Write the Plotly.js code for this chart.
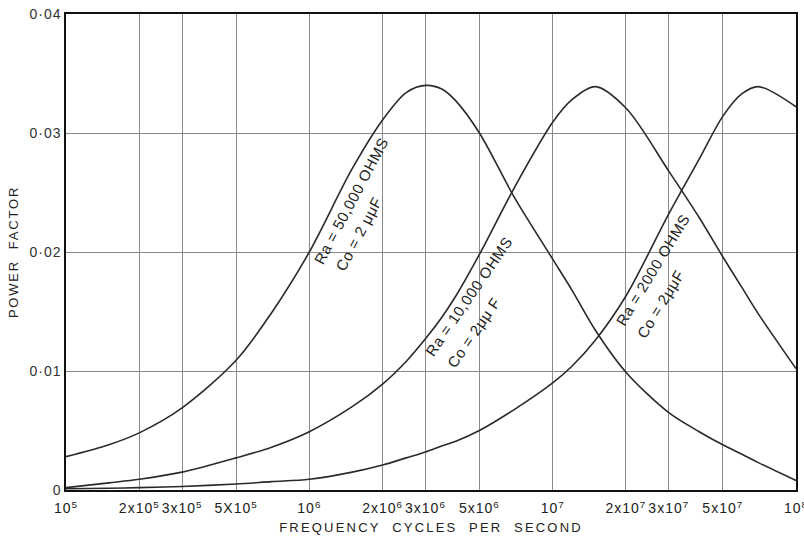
<!DOCTYPE html>
<html>
<head>
<meta charset="utf-8">
<script src="https://cdn.plot.ly/plotly-3.0.1.min.js"></script>
<style>
  html, body { margin: 0; padding: 0; background: #fff; }
  #chart { width: 804px; height: 542px; }
  .xtitle { letter-spacing: 2.2px; }
  .ytitle { letter-spacing: 1.8px; }
  .xtick text, .ytick text { letter-spacing: 1px; }
  .annotation-text { letter-spacing: 0.6px; }
</style>
</head>
<body>
<div id="chart"></div>
<script>
// Frequency (cycles per second)
const freq = [1e5, 1.5e5, 2e5, 3e5, 5e5, 7e5, 1e6, 1.5e6, 2e6, 2.5e6, 3e6, 3.5e6, 4e6, 5e6, 7e6,
              1e7, 1.2e7, 1.5e7, 2e7, 3e7, 4e7, 5e7, 6e7, 7e7, 1e8];

// Power factor, Ra = 50,000 ohms, Co = 2 µµF
const pf50000 = [0.0028, 0.0038, 0.0048, 0.0069, 0.0109, 0.0149, 0.0200, 0.0270, 0.0311, 0.0334, 0.0340, 0.0337,
                 0.0327, 0.0300, 0.0245, 0.0194, 0.0168, 0.0134, 0.0099, 0.0065, 0.0049, 0.0038, 0.0030, 0.0023, 0.0008];

// Power factor, Ra = 10,000 ohms, Co = 2 µµF
const pf10000 = [0.0002, 0.0006, 0.0009, 0.0015, 0.0027, 0.0036, 0.0049, 0.0070, 0.0089, 0.0108, 0.0127, 0.0145,
                 0.0163, 0.0198, 0.0255, 0.0309, 0.0328, 0.0339, 0.0321, 0.0268, 0.0229, 0.0196, 0.0170, 0.0148, 0.0102];

// Power factor, Ra = 2000 ohms, Co = 2 µµF
const pf2000 = [0.0001, 0.00015, 0.0002, 0.0003, 0.0005, 0.0007, 0.0009, 0.0015, 0.0021, 0.0027, 0.0032, 0.0037,
                0.0041, 0.0050, 0.0068, 0.0090, 0.0104, 0.0126, 0.0163, 0.0232, 0.0278, 0.0314, 0.0333, 0.0339, 0.0322];

// Tick labels
const xTickVals = [1e5, 2e5, 3e5, 5e5, 1e6, 2e6, 3e6, 5e6, 1e7, 2e7, 3e7, 5e7, 1e8];
const xTickText = ['10<sup>5</sup>', '2x10<sup>5</sup>', '3x10<sup>5</sup>', '5X10<sup>5</sup>', '10<sup>6</sup>',
                   '2x10<sup>6</sup>', '3x10<sup>6</sup>', '5x10<sup>6</sup>', '10<sup>7</sup>',
                   '2x10<sup>7</sup>', '3x10<sup>7</sup>', '5x10<sup>7</sup>', '10<sup>8</sup>'];
const yTickVals = [0, 0.01, 0.02, 0.03, 0.04];
const yTickText = ['0', '0·01', '0·02', '0·03', '0·04'];

// Curve labels
const labelLine1 = ['Ra = 50,000 OHMS', 'Ra = 10,000 OHMS', 'Ra = 2000 OHMS'];
const labelLine2 = ['Co = 2 μμF', 'Co = 2μμ F', 'Co = 2μμF'];

const FONT = '"Liberation Sans", Arial, Helvetica, sans-serif';
const lineStyle = { color: '#2a2a2a', width: 1.6, shape: 'spline', smoothing: 0.9 };

const traces = [pf50000, pf10000, pf2000].map((ys, i) => ({
  type: 'scatter', mode: 'lines', x: freq, y: ys,
  line: lineStyle, hoverinfo: 'skip',
  name: labelLine1[i]
}));

// label placement (log10 x for log axis, data y) and angle
const labelPos = [
  { a: [6.171, 0.02437], b: [6.204, 0.02155], ang: -62 },
  { a: [6.654, 0.01630], b: [6.675, 0.01324], ang: -55.5 },
  { a: [7.412, 0.01853], b: [7.441, 0.01563], ang: -58.7 }
];
const annotations = [];
labelPos.forEach((p, i) => {
  annotations.push({ x: p.a[0], y: p.a[1], xref: 'x', yref: 'y', text: labelLine1[i], showarrow: false,
    textangle: p.ang, font: { family: FONT, size: 15, color: '#222' }, xanchor: 'center', yanchor: 'middle' });
  annotations.push({ x: p.b[0], y: p.b[1], xref: 'x', yref: 'y', text: labelLine2[i], showarrow: false,
    textangle: p.ang, font: { family: FONT, size: 15, color: '#222' }, xanchor: 'center', yanchor: 'middle' });
});

const layout = {
  width: 804, height: 542,
  margin: { l: 66, r: 8, t: 14, b: 52 },
  paper_bgcolor: '#ffffff', plot_bgcolor: '#ffffff',
  showlegend: false,
  font: { family: FONT, color: '#222' },
  xaxis: {
    type: 'log', range: [5, 8],
    tickmode: 'array', tickvals: xTickVals, ticktext: xTickText,
    tickangle: 0, ticks: '', ticklabeloverflow: 'allow', ticklabelstandoff: 5,
    tickfont: { family: FONT, size: 14, color: '#222' },
    showgrid: true, gridcolor: '#8a8a8a', gridwidth: 1,
    showline: true, linecolor: '#111', linewidth: 1.6, mirror: true,
    zeroline: false,
    title: { text: 'FREQUENCY\u00A0\u00A0CYCLES\u00A0\u00A0PER\u00A0\u00A0SECOND', standoff: 7,
             font: { family: FONT, size: 13, color: '#222' } }
  },
  yaxis: {
    range: [0, 0.04],
    tickmode: 'array', tickvals: yTickVals, ticktext: yTickText,
    ticks: '',
    tickfont: { family: FONT, size: 14, color: '#333' },
    showgrid: true, gridcolor: '#8a8a8a', gridwidth: 1,
    showline: true, linecolor: '#111', linewidth: 1.6, mirror: true,
    zeroline: false,
    title: { text: 'POWER\u00A0\u00A0FACTOR', standoff: 8,
             font: { family: FONT, size: 13, color: '#222' } }
  },
  annotations: annotations
};

Plotly.newPlot('chart', traces, layout, { staticPlot: true, displayModeBar: false });
</script>
</body>
</html>
